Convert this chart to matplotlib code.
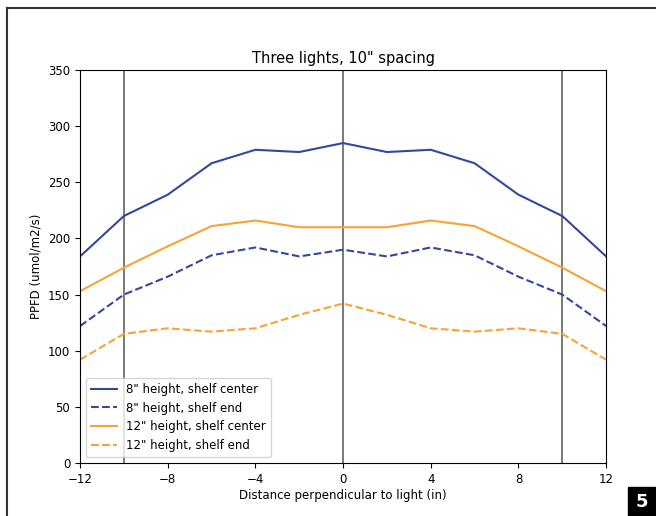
import numpy as np
import matplotlib
matplotlib.use("Agg")
import matplotlib.pyplot as plt
from matplotlib.lines import Line2D
from matplotlib.patches import Rectangle

# distance perpendicular to light (in)
distance = [-12, -10, -8, -6, -4, -2, 0, 2, 4, 6, 8, 10, 12]

# PPFD readings (umol/m2/s)
h8_center = [184, 220, 239, 267, 279, 277, 285, 277, 279, 267, 239, 220, 184]
h8_end = [122, 150, 166, 185, 192, 184, 190, 184, 192, 185, 166, 150, 122]
h12_center = [153, 174, 193, 211, 216, 210, 210, 210, 216, 211, 193, 174, 153]
h12_end = [92, 115, 120, 117, 120, 132, 142, 132, 120, 117, 120, 115, 92]

light_positions = [-10, 0, 10]
xticks = [-12, -8, -4, 0, 4, 8, 12]

blue = "#34479f"
orange = "#f7a334"

fig = plt.figure(figsize=(6.56, 5.16), dpi=100)
ax = fig.add_axes([0.122, 0.1027, 0.802, 0.7615])

for xl in light_positions:
    ax.axvline(xl, color="#555555", lw=1.1, zorder=1)

ax.plot(distance, h8_center, color=blue, lw=1.5, label='8" height, shelf center')
ax.plot(distance, h8_end, color=blue, lw=1.5, ls="--", label='8" height, shelf end')
ax.plot(distance, h12_center, color=orange, lw=1.5, label='12" height, shelf center')
ax.plot(distance, h12_end, color=orange, lw=1.5, ls="--", label='12" height, shelf end')

ax.set_xlim(-12, 12)
ax.set_ylim(0, 350)
ax.set_xticks(xticks)
ax.set_xticklabels([f"{t}".replace("-", "\u2212") for t in xticks])
ax.tick_params(labelsize=8.5)
ax.set_xlabel("Distance perpendicular to light (in)", fontsize=8.5, labelpad=2)
ax.set_ylabel("PPFD (umol/m2/s)", fontsize=8.5)
ax.set_title('Three lights, 10" spacing', fontsize=10.5, pad=5)
ax.legend(loc="lower left", fontsize=8.5, handlelength=2.2)

# outer border of the figure panel
fig.add_artist(Line2D([7 / 656, 7 / 656], [0, 1 - 8 / 516], transform=fig.transFigure,
                      color="#333333", lw=1.5))
fig.add_artist(Line2D([7 / 656, 1], [1 - 8 / 516, 1 - 8 / 516], transform=fig.transFigure,
                      color="#333333", lw=1.5))

# panel number box
fig.add_artist(Rectangle((628 / 656, 0), 28 / 656, 29 / 516, transform=fig.transFigure,
                         color="black"))
fig.text(642 / 656, 14 / 516, "5", color="white", fontsize=13, fontweight="bold",
         ha="center", va="center")

fig.savefig("out.png", dpi=100)
